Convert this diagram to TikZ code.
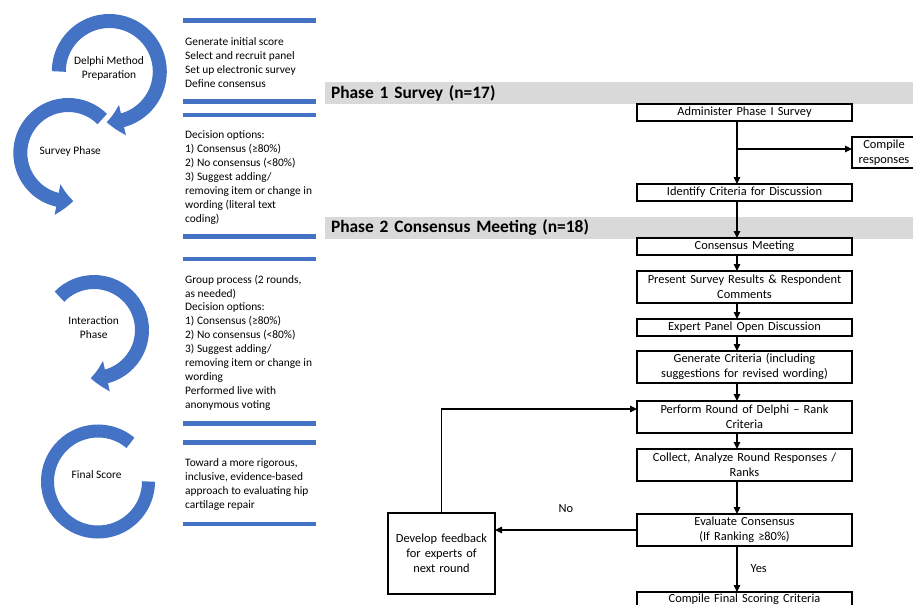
\documentclass[tikz,border=0pt]{standalone}
\usepackage{fontspec}
\setmainfont{Carlito}
\usepackage{xcolor}
\usetikzlibrary{arrows.meta,bending,positioning,calc}
\definecolor{delphiblue}{HTML}{4472C4}
\definecolor{bandgray}{HTML}{D9D9D9}
\tikzset{
  stepbox/.style={ % one step of the flow chart
    draw, rectangle, line width=1.2pt, outer sep=0pt,
    minimum width=215pt, minimum height=17pt,
    text width=209pt, align=center, inner sep=1pt,
    font=\fontsize{12.4}{15}\selectfont
  },
  twostep/.style={ % a step with two lines of text
    stepbox, minimum height=32pt
  },
  phaseband/.style={ % gray band with the phase title
    fill=bandgray, rectangle, outer sep=0pt,
    minimum width=588pt, minimum height=22pt,
    text width=576pt, align=left, inner xsep=6pt, inner ysep=0pt,
    font=\bfseries\fontsize{17.4}{20}\selectfont
  },
  notes/.style={ % text between the blue rules
    align=left, anchor=west, inner sep=0pt,
    font=\fontsize{11.4}{13.9}\selectfont
  },
  wheeltext/.style={
    align=center, inner sep=0pt,
    font=\fontsize{11.4}{13.9}\selectfont
  },
  bluerule/.style={line width=4.5pt, delphiblue},
  wheel/.style={line width=14pt, delphiblue},
  wheelarrow/.style={wheel, -{Triangle[length=16pt, width=30pt, bend]}},
  flow/.style={line width=1.2pt, -{Triangle[length=7pt, width=6.5pt]}},
  flowlabel/.style={inner sep=1pt, font=\fontsize{12.4}{15}\selectfont}
}

\begin{document}
\begin{tikzpicture}[x=1pt, y=1pt]
  \useasboundingbox (0,0) rectangle (913,-605);
  \clip (0,0) rectangle (913,-605);

  % wheels on the left
  \coordinate (prepc) at (109.3,-71.5);
  \coordinate (surveyc) at (68.3,-153);
  \coordinate (interactc) at (94,-330);
  \coordinate (finalc) at (98,-481.5);

  \draw[wheelarrow] (prepc) ++(180:50.5) arc[start angle=180, end angle=-93, radius=50.5];
  \draw[wheelarrow] (surveyc) ++(45:48) arc[start angle=45, end angle=276, radius=48];
  \draw[wheelarrow] (interactc) ++(136:48) arc[start angle=136, end angle=-94, radius=48];
  \draw[wheel, line width=13pt] (finalc) ++(50:50.5) arc[start angle=50, end angle=360, radius=50.5];

  \node[wheeltext] (prep) at (109,-68.3) {Delphi Method\\Preparation};
  \node[wheeltext] (survey) at (70.3,-151) {Survey Phase};
  \node[wheeltext] (interact) at (93.7,-327.5) {Interaction\\Phase};
  \node[wheeltext] (final) at (96.7,-475) {Final Score};

  % blue rules
  \draw[bluerule] (183,-20.7) -- (316,-20.7);
  \draw[bluerule] (183,-101.7) -- (316,-101.7);
  \draw[bluerule] (183,-115) -- (316,-115);
  \draw[bluerule] (183,-236.7) -- (316,-236.7);
  \draw[bluerule] (183,-259) -- (316,-259);
  \draw[bluerule] (183,-423.5) -- (316,-423.5);
  \draw[bluerule] (183,-442.7) -- (316,-442.7);
  \draw[bluerule] (183,-524) -- (316,-524);

  \node[notes] (prepnotes) at (185,-62.5) {Generate initial score\\Select and recruit panel\\Set up electronic survey\\Define consensus};
  \node[notes] (surveynotes) at (185,-177.5) {Decision options:\\1) Consensus (≥80\%)\\2) No consensus (<80\%)\\3) Suggest adding/\\removing item or change in\\wording (literal text\\coding)};
  \node[notes] (interactnotes) at (185,-342.5) {Group process (2 rounds,\\as needed)\\Decision options:\\1) Consensus (≥80\%)\\2) No consensus (<80\%)\\3) Suggest adding/\\removing item or change in\\wording\\Performed live with\\anonymous voting};
  \node[notes] (finalnotes) at (185,-484.5) {Toward a more rigorous,\\inclusive, evidence-based\\approach to evaluating hip\\cartilage repair};

  % phase bands
  \node[phaseband, anchor=west] (phase1) at (325,-93) {Phase 1 Survey (n=17)};
  \node[phaseband, anchor=west] (phase2) at (325,-228) {Phase 2 Consensus Meeting (n=18)};

  % flow chart
  \node[stepbox] (admin) at (744.5,-112.5) {Administer Phase I Survey};
  \node[stepbox, below=63pt of admin] (ident) {Identify Criteria for Discussion};
  \node[stepbox, below=37pt of ident] (meet) {Consensus Meeting};
  \node[twostep, below=16pt of meet] (present) {Present Survey Results \& Respondent\\Comments};
  \node[stepbox, below=16pt of present] (discuss) {Expert Panel Open Discussion};
  \node[twostep, below=15pt of discuss] (generate) {Generate Criteria (including\\suggestions for revised wording)};
  \node[twostep, below=18pt of generate] (rank) {Perform Round of Delphi – Rank\\Criteria};
  \node[twostep, below=16pt of rank] (collect) {Collect, Analyze Round Responses /\\Ranks};
  \node[twostep, below=33pt of collect] (evaluate) {Evaluate Consensus\\(If Ranking ≥80\%)};
  \node[stepbox, minimum height=14.5pt, below=46pt of evaluate] (scoring) {Compile Final Scoring Criteria};
  \node[stepbox, minimum width=64pt, text width=62pt, minimum height=31pt, anchor=west] (compile) at (852,-152.5) {Compile\\responses};
  \node[stepbox, minimum width=107pt, text width=100pt, minimum height=81pt] (feedback) at (441.5,-553.5) {Develop feedback\\for experts of\\next round};

  \coordinate (split) at ([xshift=-7.5pt, yshift=-28pt]admin.south);
  \draw[flow] ([xshift=-7.5pt]admin.south) -- ([xshift=-7.5pt]ident.north);
  \draw[flow] (split) -- (split -| compile.west);
  \draw[flow] ([xshift=-7.5pt]ident.south) -- ([xshift=-7.5pt]meet.north);
  \draw[flow] ([xshift=-7.5pt]meet.south) -- ([xshift=-7.5pt]present.north);
  \draw[flow] ([xshift=-7.5pt]present.south) -- ([xshift=-7.5pt]discuss.north);
  \draw[flow] ([xshift=-7.5pt]discuss.south) -- ([xshift=-7.5pt]generate.north);
  \draw[flow] ([xshift=-7.5pt]generate.south) -- ([xshift=-7.5pt]rank.north);
  \draw[flow] ([xshift=-7.5pt]rank.south) -- ([xshift=-7.5pt]collect.north);
  \draw[flow] ([xshift=-7.5pt]collect.south) -- ([xshift=-7.5pt]evaluate.north);
  \draw[flow] ([xshift=-7.5pt]evaluate.south) -- ([xshift=-7.5pt]scoring.north)
    node[flowlabel, midway, right=12pt] (yeslabel) {Yes};
  \draw[flow] (evaluate.west) -- (evaluate.west -| feedback.east)
    node[flowlabel, midway, above=16pt] (nolabel) {No};
  \draw[flow] (feedback.north) |- ([yshift=8pt]rank.west);
\end{tikzpicture}
\end{document}
